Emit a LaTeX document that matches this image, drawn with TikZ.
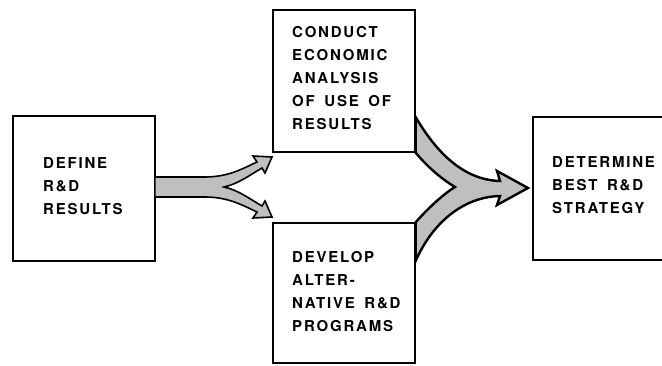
\documentclass[tikz,border=0pt]{standalone}
\usepackage{fontspec}
\setmainfont{TeX Gyre Heros}[LetterSpace=12,WordSpace=1.6]
\begin{document}
\begin{tikzpicture}[x=1pt,y=-1pt,
  box/.style={draw=black,line width=1.2pt,minimum width=#1,inner sep=0pt},
  txt/.style={anchor=west,align=left,inner sep=0pt,font=\fontsize{15}{23}\selectfont\bfseries},
  arrowshape/.style={draw=black,fill=gray!50,line join=miter}]
\useasboundingbox (0,0) rectangle (662,366);
\clip (0,0) rectangle (662,366);
% boxes
\node[box=142pt,minimum height=145pt] (define) at (84,188.5) {};
\node[box=142pt,minimum height=142pt] (conduct) at (344,81) {};
\node[box=142pt,minimum height=140pt] (develop) at (344,293) {};
\node[box=150pt,minimum height=143pt] (determine) at (608,188.5) {};
% texts
\node[txt] (t1) at (43,186) {DEFINE\\R\&D\\RESULTS};
\node[txt] (t2) at (292,78.5) {CONDUCT\\ECONOMIC\\ANALYSIS\\OF USE OF\\RESULTS};
\node[txt] (t3) at (292,291.5) {DEVELOP\\ALTER-\\NATIVE R\&D\\PROGRAMS};
\node[txt] (t4) at (552,185.5) {DETERMINE\\BEST R\&D\\STRATEGY};
% split arrow
\draw[arrowshape,line width=1.6pt]
  (define.east |- 0,177) -- (205,177)
  .. controls (228,177) and (242,169) .. (257,162)
  -- (253,156) -- (272,157) -- (265,173) -- (262,168)
  .. controls (250,175) and (238,184) .. (224,187)
  .. controls (238,190) and (250,199) .. (262,206)
  -- (265,201) -- (272,217) -- (253,218) -- (257,212)
  .. controls (242,205) and (228,197) .. (205,197)
  -- (define.east |- 0,197);
% merge arrow
\draw[arrowshape,line width=2.4pt]
  (conduct.east |- 0,117)
  .. controls (435,150) and (462,180) .. (500,181)
  -- (497,171) -- (528,188) -- (497,205) -- (500,196)
  .. controls (462,197) and (432,224) .. (develop.east |- 0,261)
  -- (develop.north east)
  .. controls (430,206) and (445,193) .. (455,187)
  .. controls (445,181) and (430,170) .. (conduct.south east)
  -- cycle;
\end{tikzpicture}
\end{document}
